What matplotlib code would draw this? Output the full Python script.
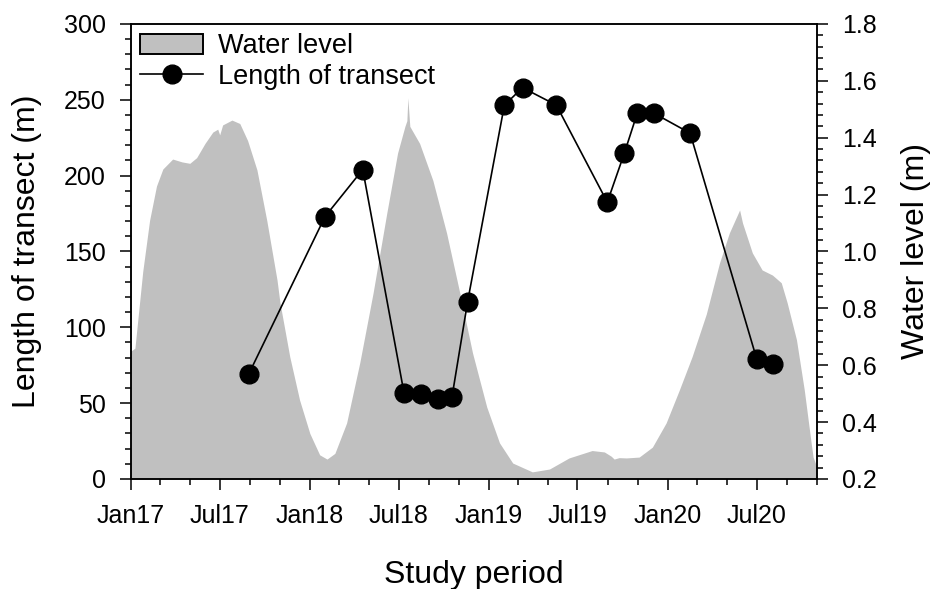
import pandas as pd
import matplotlib
matplotlib.use("Agg")
import matplotlib.pyplot as plt
import matplotlib.dates as mdates
from matplotlib.patches import Patch
from matplotlib.lines import Line2D
from matplotlib.ticker import MultipleLocator, FormatStrFormatter

plt.rcParams['font.family'] = ['Liberation Sans', 'DejaVu Sans']

# Water level record (m)
nivel_fechas = [
    "2017-01-01", "2017-01-09", "2017-01-25", "2017-02-08", "2017-02-22", "2017-03-07",
    "2017-03-27", "2017-04-15", "2017-05-01", "2017-05-15", "2017-06-01", "2017-06-17",
    "2017-06-27", "2017-07-01", "2017-07-07", "2017-07-26", "2017-08-11", "2017-08-27",
    "2017-09-15", "2017-10-05", "2017-10-26", "2017-11-01", "2017-11-21", "2017-12-11",
    "2018-01-01", "2018-01-21", "2018-02-05", "2018-02-21", "2018-03-17", "2018-04-13",
    "2018-05-10", "2018-06-07", "2018-06-29", "2018-07-14", "2018-07-18", "2018-07-20",
    "2018-07-24", "2018-08-13", "2018-09-09", "2018-10-07", "2018-11-03", "2018-11-29",
    "2018-12-28", "2019-01-23", "2019-02-19", "2019-03-31", "2019-05-05", "2019-06-14",
    "2019-07-31", "2019-08-25", "2019-09-08", "2019-09-14", "2019-09-24", "2019-10-09",
    "2019-11-04", "2019-12-01", "2019-12-29", "2020-01-25", "2020-02-20", "2020-03-20",
    "2020-04-16", "2020-05-06", "2020-05-27", "2020-06-02", "2020-06-22", "2020-07-12",
    "2020-08-02", "2020-08-20", "2020-09-01", "2020-09-20", "2020-10-06", "2020-10-20",
    "2020-10-24", "2020-11-01",
]
nivel_agua = [
    0.65, 0.66, 0.93, 1.11, 1.23, 1.29,
    1.325, 1.315, 1.31, 1.33, 1.38, 1.42,
    1.43, 1.41, 1.445, 1.462, 1.45, 1.39,
    1.287, 1.11, 0.90, 0.82, 0.63, 0.478,
    0.36, 0.285, 0.27, 0.29, 0.397, 0.61,
    0.854, 1.135, 1.346, 1.44, 1.46, 1.54,
    1.44, 1.38, 1.25, 1.065, 0.854, 0.643,
    0.453, 0.327, 0.256, 0.225, 0.235, 0.274,
    0.30, 0.295, 0.28, 0.27, 0.275, 0.274,
    0.277, 0.312, 0.397, 0.513, 0.63, 0.78,
    0.96, 1.065, 1.146, 1.10, 0.995, 0.935,
    0.917, 0.89, 0.82, 0.69, 0.513, 0.327,
    0.277, 0.24,
]

# Length of transect (m) on each survey date
transecto_fechas = [
    "2017-08-29", "2018-02-01", "2018-04-19", "2018-07-12", "2018-08-15", "2018-09-19",
    "2018-10-18", "2018-11-19", "2019-02-02", "2019-03-11", "2019-05-19", "2019-08-31",
    "2019-10-05", "2019-10-31", "2019-12-05", "2020-02-16", "2020-07-01", "2020-08-04",
]
longitud = [
    69, 173, 204, 57, 56, 52.5,
    54, 117, 246.5, 258, 246.5, 182.5,
    215, 241, 241, 228, 79, 76,
]

x_nivel = pd.to_datetime(nivel_fechas)
x_trans = pd.to_datetime(transecto_fechas)

fig = plt.figure(figsize=(9.33, 5.89), dpi=100)
ax = fig.add_axes([0.1404, 0.1868, 0.7353, 0.7725])
ax2 = ax.twinx()

# area de nivel de agua (eje derecho), detras de la linea
ax2.fill_between(x_nivel, 0.2, nivel_agua, color='#c0c0c0', linewidth=0)
ax2.set_ylim(0.2, 1.8)
ax2.yaxis.set_major_locator(MultipleLocator(0.2))
ax2.yaxis.set_minor_locator(MultipleLocator(0.04))
ax2.yaxis.set_major_formatter(FormatStrFormatter('%.1f'))
ax2.set_ylabel('Water level (m)', fontsize=23, labelpad=17)

ax.plot(x_trans, longitud, color='black', linewidth=1.2, marker='o',
        markersize=13.5, markerfacecolor='black', zorder=3)
ax.set_ylim(0, 300)
ax.yaxis.set_major_locator(MultipleLocator(50))
ax.yaxis.set_minor_locator(MultipleLocator(10))
ax.set_ylabel('Length of transect (m)', fontsize=23, labelpad=16)

ax.set_zorder(ax2.get_zorder() + 1)
ax.patch.set_visible(False)

ax.set_xlim(pd.Timestamp("2017-01-01"), pd.Timestamp("2020-11-01"))
ax.xaxis.set_major_locator(mdates.MonthLocator(bymonth=[1, 7]))
ax.xaxis.set_minor_locator(mdates.MonthLocator(bymonth=[1, 3, 5, 7, 9, 11]))
ax.xaxis.set_major_formatter(mdates.DateFormatter('%b%y'))
ax.set_xlabel('Study period', fontsize=23, labelpad=23)

for a in (ax, ax2):
    a.tick_params(which='major', direction='out', length=8, width=1.1, labelsize=18, pad=10)
    a.tick_params(which='minor', direction='out', length=4.5, width=1.1)
    for s in a.spines.values():
        s.set_linewidth(1.1)

handles = [
    Patch(facecolor='#c0c0c0', edgecolor='black', linewidth=1.4),
    Line2D([], [], color='black', linewidth=1.2, marker='o', markersize=13.5),
]
ax.legend(handles, ['Water level', 'Length of transect'], loc='upper left',
          frameon=False, fontsize=19.5, handlelength=2.3, handleheight=0.8,
          borderaxespad=0.05, borderpad=0.3, labelspacing=0.15, handletextpad=0.55)

fig.savefig('out.png', dpi=100)
